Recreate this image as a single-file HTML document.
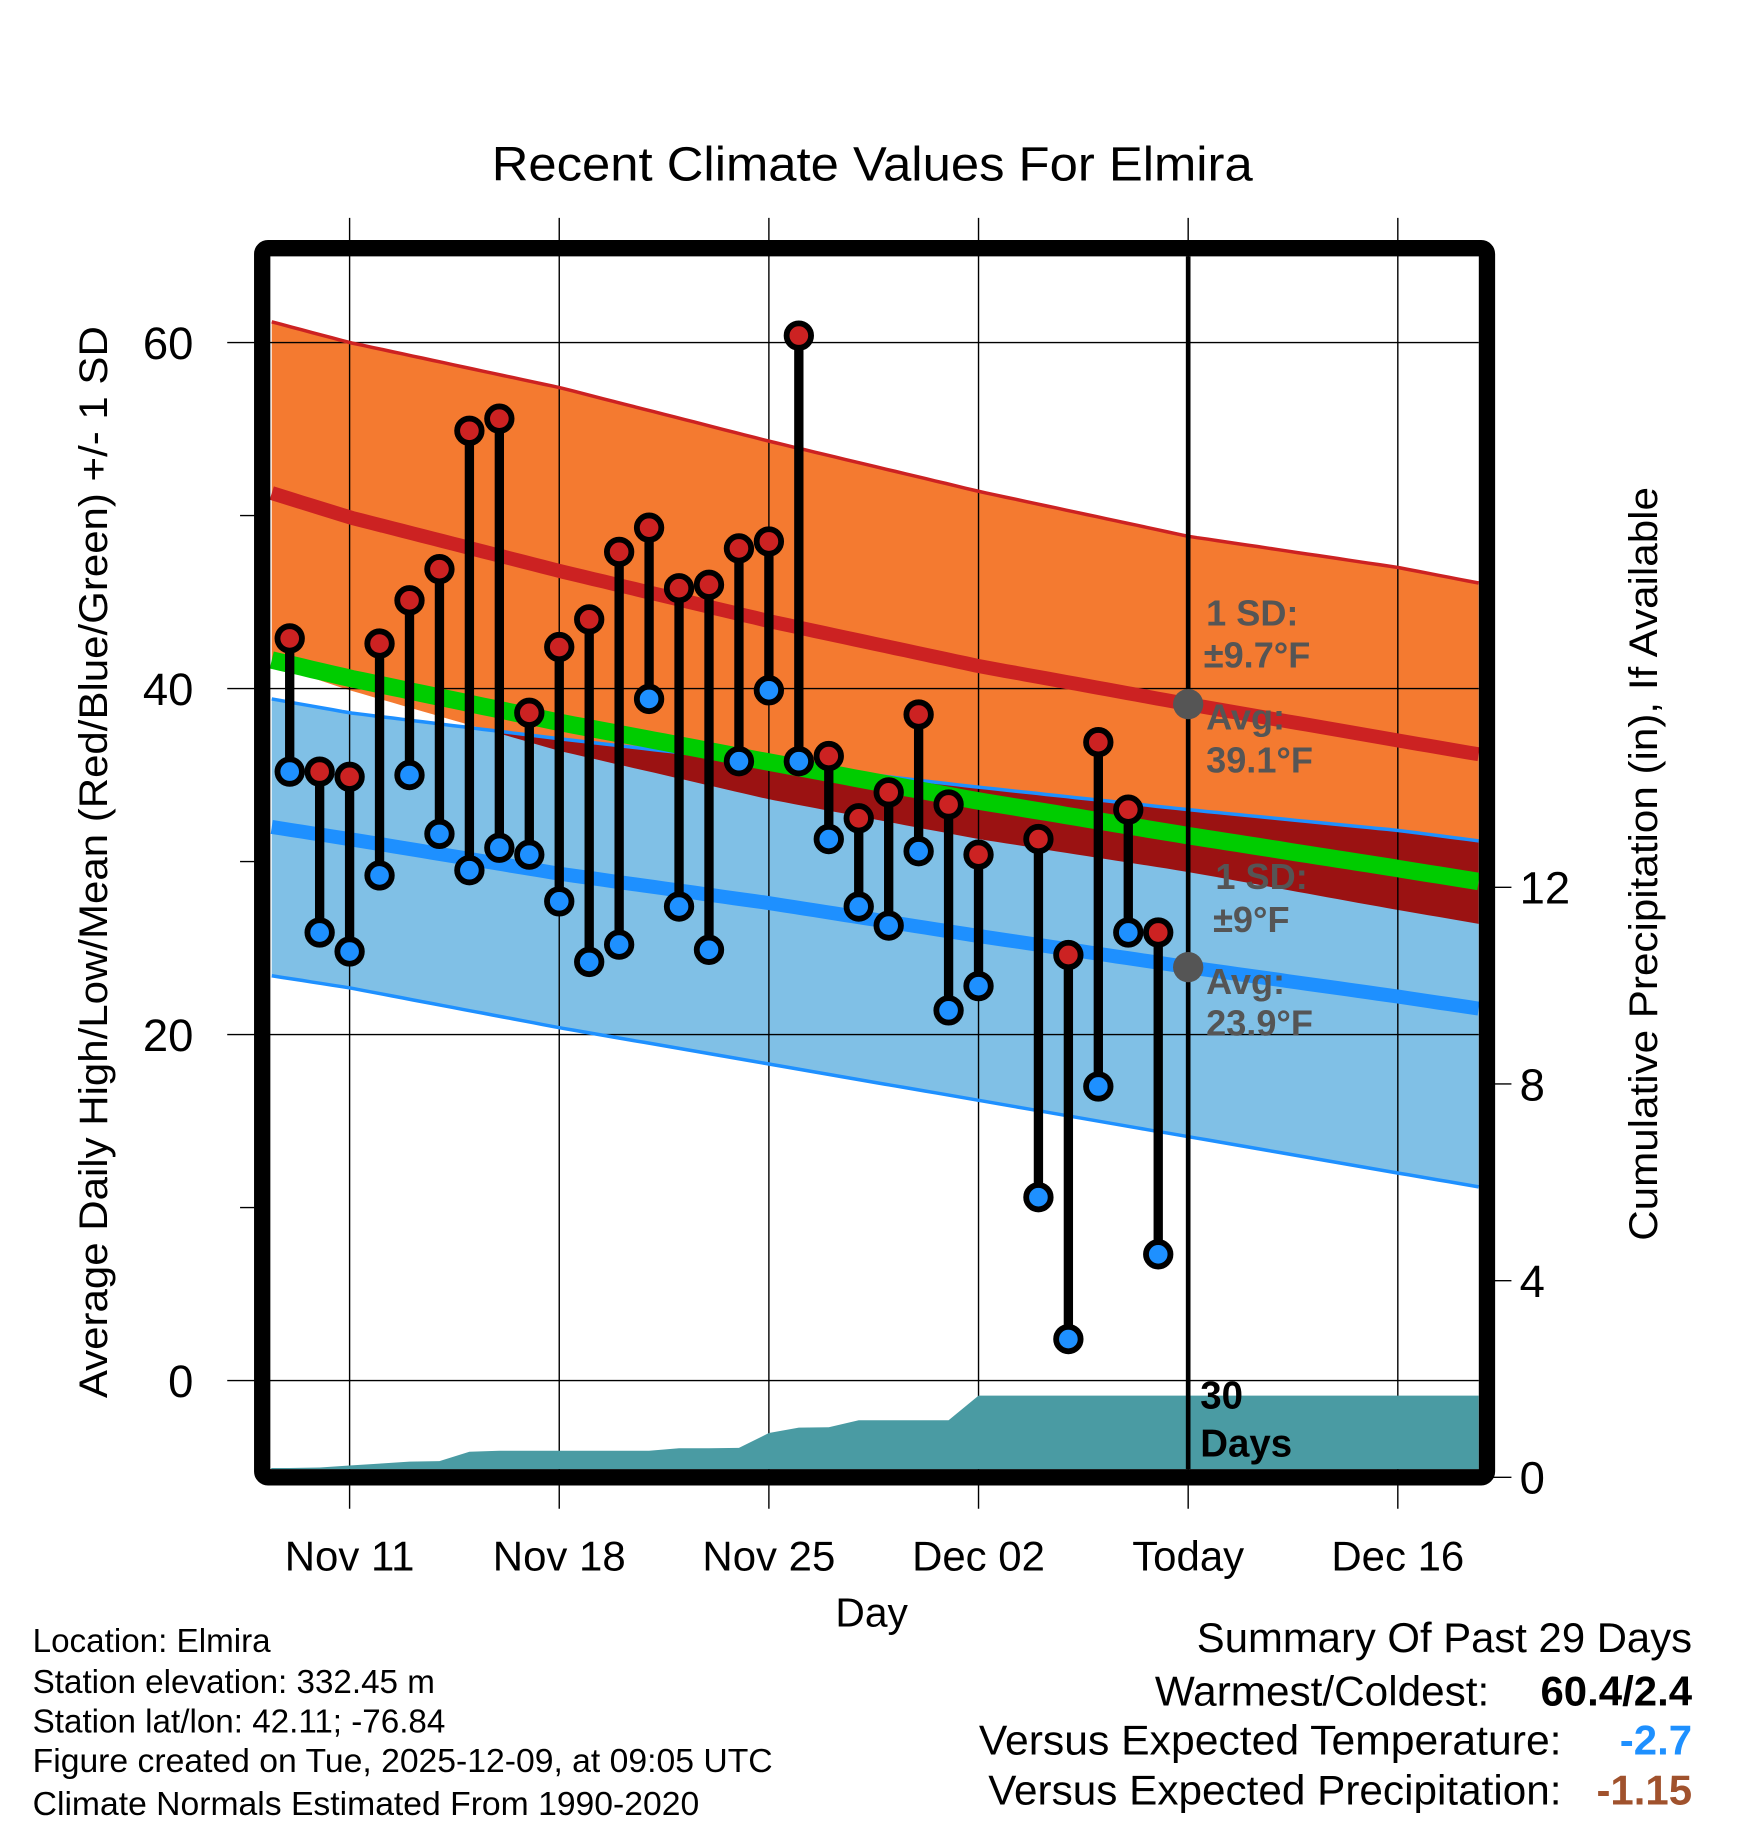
<!DOCTYPE html>
<html><head><meta charset="utf-8"><style>
html,body{margin:0;padding:0;background:#fff}
svg{display:block}
text{font-family:"Liberation Sans",sans-serif}
</style></head><body>
<svg id="chart" width="1748" height="1828" viewBox="0 0 1500 1569" preserveAspectRatio="none" xmlns="http://www.w3.org/2000/svg">
<rect width="1500" height="1569" fill="#fff"/>
<g id="fills"></g>
<g id="grid"></g>
<g id="normals"></g>
<g id="precip"></g>
<g id="marks"></g>
<g id="annot"></g>
<rect x="225" y="213" width="1051" height="1055" rx="5" fill="none" stroke="#000" stroke-width="14"/>
<text x="422" y="155" font-size="41" textLength="653" lengthAdjust="spacingAndGlyphs">Recent Climate Values For Elmira</text>
<text transform="translate(92,1200) rotate(-90)" font-size="34" textLength="920" lengthAdjust="spacingAndGlyphs">Average Daily High/Low/Mean (Red/Blue/Green) +/- 1 SD</text>
<text transform="translate(1422,1065) rotate(-90)" font-size="34" textLength="647" lengthAdjust="spacingAndGlyphs">Cumulative Precipitation (in), If Available</text>
<text x="748" y="1396" font-size="35" text-anchor="middle">Day</text>
<g font-size="28.5">
<text x="28" y="1418">Location: Elmira</text>
<text x="28" y="1453">Station elevation: 332.45 m</text>
<text x="28" y="1487">Station lat/lon: 42.11; -76.84</text>
<text x="28" y="1521" textLength="635" lengthAdjust="spacingAndGlyphs">Figure created on Tue, 2025-12-09, at 09:05 UTC</text>
<text x="28" y="1558" textLength="572" lengthAdjust="spacingAndGlyphs">Climate Normals Estimated From 1990-2020</text>
</g>
<g font-size="36">
<text x="1027" y="1418" textLength="425" lengthAdjust="spacingAndGlyphs">Summary Of Past 29 Days</text>
<text x="991" y="1464" textLength="287" lengthAdjust="spacingAndGlyphs">Warmest/Coldest:</text>
<text x="1452" y="1464" font-weight="bold" text-anchor="end">60.4/2.4</text>
<text x="840" y="1506" textLength="500" lengthAdjust="spacingAndGlyphs">Versus Expected Temperature:</text>
<text x="1452" y="1506" font-weight="bold" fill="#1e90ff" text-anchor="end">-2.7</text>
<text x="848" y="1549" textLength="492" lengthAdjust="spacingAndGlyphs">Versus Expected Precipitation:</text>
<text x="1452" y="1549" font-weight="bold" fill="#a0522d" text-anchor="end">-1.15</text>
</g>
</svg>
<script>
// ---- data ----
const dayOffsets = [-2,-1,0,1,2,3,4,5,6,7,8,9,10,11,12,13,14,15,16,17,18,19,20,21,23,24,25,26,27]; // days from Nov 11
const highs = [42.9,35.2,34.9,42.6,45.1,46.9,54.9,55.6,38.6,42.4,44.0,47.9,49.3,45.8,46.0,48.1,48.5,60.4,36.1,32.5,34.0,38.5,33.3,30.4,31.3,24.6,36.9,33.0,25.9];
const lows  = [35.2,25.9,24.8,29.2,35.0,31.6,29.5,30.8,30.4,27.7,24.2,25.2,39.4,27.4,24.9,35.8,39.9,35.8,31.3,27.4,26.3,30.6,21.4,22.8,10.6,2.4,17.0,25.9,7.3];
const normOffsets = [-2.6,0,7,14,21,28,35,37.7];
const highUpper = [61.2,60.0,57.4,54.3,51.4,48.8,47.0,46.1];
const highAvg   = [51.3,49.9,46.8,43.9,41.3,39.1,37.0,36.2];
const highLower = [41.4,39.9,36.4,33.6,31.3,29.4,27.2,26.4];
const lowUpper  = [39.4,38.6,37.1,35.7,34.3,33.0,31.8,31.2];
const lowAvg    = [32.0,31.3,29.3,27.6,25.7,23.9,22.2,21.5];
const lowLower  = [23.4,22.7,20.4,18.3,16.2,14.1,12.0,11.2];
const precipOffsets = [-2.6,-2,-1,0,1,2,3,4,5,6,7,8,9,10,11,12,13,14,15,16,17,18,19,20,21,37.7];
const precipCum = [0.19,0.19,0.20,0.24,0.28,0.32,0.33,0.52,0.54,0.54,0.54,0.54,0.54,0.54,0.59,0.59,0.60,0.90,1.01,1.02,1.16,1.16,1.16,1.16,1.66,1.66];
const xTickOffsets = [0,7,14,21,28,35];
const xTickLabels = ["Nov 11","Nov 18","Nov 25","Dec 02","Today","Dec 16"];
const yTicks = [0,20,40,60];
const yMinor = [10,30,50];
const y2Ticks = [0,4,8,12];
const todayOffset = 28;
const todayHighAvg = 39.1, todayHighSD = 9.7, todayLowAvg = 23.9, todayLowSD = 9;

// ---- axes ----
const X0=232,X1=1269,Y0=220,Y1=1261;
const x = d => 300 + 25.7*d;
const y = v => 1185 - 14.85*v;
const y2 = p => 1268 - 42.2*p;
const NS='http://www.w3.org/2000/svg';
function mk(tag, attrs, parent){const e=document.createElementNS(NS,tag);for(const k in attrs)e.setAttribute(k,attrs[k]);parent.appendChild(e);return e;}
const G = id => document.getElementById(id);
function interp(xs,ys,t){if(t<=xs[0])return ys[0];for(let i=1;i<xs.length;i++){if(t<=xs[i]){const f=(t-xs[i-1])/(xs[i]-xs[i-1]);return ys[i-1]+f*(ys[i]-ys[i-1]);}}return ys[ys.length-1];}
const samples=[];const tA=normOffsets[0],tB=normOffsets[normOffsets.length-1];
for(let i=0;i<=120;i++)samples.push(tA+(tB-tA)*i/120);
function pts(arr,fn){return samples.map(t=>x(t).toFixed(1)+','+y(fn?fn(t):interp(normOffsets,arr,t)).toFixed(1));}

// fills
const fills=G('fills');
let p=mk('polygon',{points:pts(highUpper).concat(pts(highLower).reverse()).join(' '),fill:'#f47a30'},fills);

p=mk('polygon',{points:pts(lowUpper).concat(pts(lowLower).reverse()).join(' '),fill:'#80c0e6'},fills);

p=mk('polygon',{points:pts(lowUpper).concat(pts(null,t=>Math.min(interp(normOffsets,lowUpper,t),interp(normOffsets,highLower,t))).reverse()).join(' '),fill:'#9b1212'},fills);


// grid
const grid=G('grid');
xTickOffsets.forEach((d,i)=>{
  const l=mk('line',{x1:x(d),x2:x(d),y1:187,y2:1295,stroke:'#000','stroke-width':1.2},grid);
  
  const t=mk('text',{x:x(d),y:1348,'font-size':36,'text-anchor':'middle'},grid);t.textContent=xTickLabels[i];
  
});
yTicks.forEach(v=>{
  const l=mk('line',{x1:195,x2:X1,y1:y(v),y2:y(v),stroke:'#000','stroke-width':1.2},grid);
  
  const t=mk('text',{x:166,y:y(v)+14,'font-size':39,'text-anchor':'end'},grid);t.textContent=v;
  
});
yMinor.forEach(v=>{
  const l=mk('line',{x1:206,x2:222,y1:y(v),y2:y(v),stroke:'#000','stroke-width':1.2},grid);
  
});
y2Ticks.forEach(v=>{
  const l=mk('line',{x1:1276,x2:1297,y1:y2(v),y2:y2(v),stroke:'#000','stroke-width':1.2},grid);
  
  const t=mk('text',{x:1304,y:y2(v)+14,'font-size':39},grid);t.textContent=v;
  
});

// normals
const nm=G('normals');
function pl(arr,col,w,name,fn){const e=mk('polyline',{points:pts(arr,fn).join(' '),fill:'none',stroke:col,'stroke-width':w},nm);
  }
pl(highUpper,'#cc2222',3,'high-upper-line');
pl(highAvg,'#cc2222',12,'avg-high-line');
pl(lowUpper,'#1e90ff',3,'low-upper-line');
pl(lowLower,'#1e90ff',3,'low-lower-line');
pl(lowAvg,'#1e90ff',12,'avg-low-line');
pl(null,'#00cc00',15,'mean-line',t=>(interp(normOffsets,highAvg,t)+interp(normOffsets,lowAvg,t))/2);

// precip
const pr=G('precip');
const ppts=precipOffsets.map((d,i)=>Math.max(X0,x(d)).toFixed(1)+','+y2(precipCum[i]).toFixed(1));
ppts.push(X1+','+Y1);ppts.push(X0+','+Y1);
p=mk('polygon',{points:ppts.join(' '),fill:'#4a9ba3'},pr);


// today line
const tl=mk('line',{x1:x(todayOffset),x2:x(todayOffset),y1:Y0,y2:Y1,stroke:'#000','stroke-width':4},pr);


// marks
const mg=G('marks');
dayOffsets.forEach((d,i)=>{
  const s=mk('line',{x1:x(d),x2:x(d),y1:y(highs[i]),y2:y(lows[i]),stroke:'#000','stroke-width':8},mg);
  
});
dayOffsets.forEach((d,i)=>{
  const h=mk('circle',{cx:x(d),cy:y(highs[i]),r:10.5,fill:'#cc2222',stroke:'#000','stroke-width':5},mg);
  
  const l=mk('circle',{cx:x(d),cy:y(lows[i]),r:10.5,fill:'#1e90ff',stroke:'#000','stroke-width':5},mg);
  
});

// annotations
const an=G('annot');
let c=mk('circle',{cx:x(todayOffset),cy:y(todayHighAvg),r:13,fill:'#555'},an);

c=mk('circle',{cx:x(todayOffset),cy:y(todayLowAvg),r:13,fill:'#555'},an);

function lab(tx,ty,str,name,col,sz){const t=mk('text',{x:tx,y:ty,'font-size':sz||31,'font-weight':'bold',fill:col||'#555'},an);t.textContent=str;
  }
lab(1035,537,'1 SD:','high-sd-label');
lab(1033,573,'\u00b1'+todayHighSD+'\u00b0F','high-sd-value');
lab(1035,626,'Avg:','high-avg-label');
lab(1035,663,todayHighAvg+'\u00b0F','high-avg-value');
lab(1043,763,'1 SD:','low-sd-label');
lab(1041,800,'\u00b1'+todayLowSD+'\u00b0F','low-sd-value');
lab(1035,853,'Avg:','low-avg-label');
lab(1035,889,todayLowAvg+'\u00b0F','low-avg-value');
lab(1030,1209,'30','days-label-number','#000',33);
lab(1030,1250,'Days','days-label-text','#000',33);
</script>
</body></html>
